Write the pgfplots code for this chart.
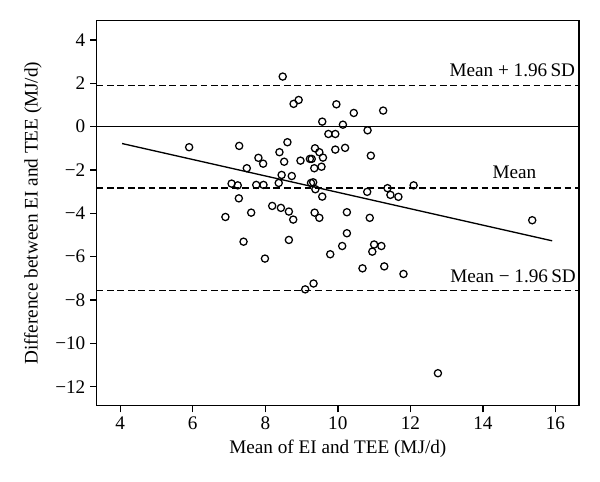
\documentclass[border=0pt]{standalone}
\usepackage{fontspec}
\setmainfont{Liberation Serif}
\usepackage{pgfplots}
\pgfplotsset{compat=1.18}
\begin{document}
\begin{tikzpicture}
\begin{axis}[
  scale only axis,
  width=361.7pt, height=288.75pt,
  xmin=3.35, xmax=16.65, ymin=-12.88, ymax=4.89,
  xtick={4,6,8,10,12,14,16},
  ytick={-12,-10,-8,-6,-4,-2,0,2,4},
  yticklabels={−12,−10,−8,−6,−4,−2,0,2,4},
  xtick pos=left, ytick pos=left,
  tick align=outside, major tick length=5pt,
  axis line style={line width=1pt},
  every tick/.style={line width=1pt, black},
  tick label style={font=\fontsize{14.4}{16}\selectfont},
  label style={font=\fontsize{14.4}{16}\selectfont},
  /pgf/number format/assume math mode=true,
  xlabel={Mean of EI and TEE (MJ/d)},
  ylabel={Difference between EI and TEE (MJ/d)},
  xlabel style={at={(axis description cs:0.5,-0.112)}, anchor=center},
  ylabel style={at={(axis description cs:-0.132,0.5)}, anchor=center},
  clip=false,
]
\addplot[black, line width=1pt, forget plot] coordinates {(3.35,0) (16.65,0)};
\addplot[black, line width=1pt, dash pattern=on 5pt off 2.8pt, forget plot] coordinates {(3.35,1.91) (16.65,1.91)};
\addplot[black, line width=1pt, dash pattern=on 5pt off 2.8pt, forget plot] coordinates {(3.35,-2.83) (16.65,-2.83)};
\addplot[black, line width=1pt, dash pattern=on 5pt off 2.8pt, forget plot] coordinates {(3.35,-7.57) (16.65,-7.57)};
\addplot[black, line width=1pt, forget plot] coordinates {(4.05,-0.78) (15.91,-5.27)};
\addplot[only marks, mark=o, mark size=2.7pt, mark options={line width=0.95pt, black}] table {
x y
5.90 -0.95
7.28 -0.89
7.81 -1.44
7.49 -1.92
7.07 -2.63
7.24 -2.71
7.75 -2.69
7.95 -2.69
7.27 -3.31
8.48 2.31
8.78 1.05
8.92 1.23
9.96 1.03
10.44 0.63
11.25 0.74
9.57 0.23
10.14 0.09
10.82 -0.17
9.74 -0.34
9.93 -0.34
8.61 -0.72
8.39 -1.18
9.37 -1.00
9.49 -1.18
9.59 -1.43
9.93 -1.06
10.20 -0.98
10.91 -1.34
7.94 -1.71
8.52 -1.62
8.97 -1.57
9.23 -1.49
9.28 -1.49
9.35 -1.92
9.55 -1.85
8.45 -2.23
8.73 -2.28
8.37 -2.60
9.26 -2.60
9.32 -2.57
9.38 -2.89
9.57 -3.23
10.81 -3.01
11.37 -2.84
11.45 -3.15
11.67 -3.24
12.09 -2.71
15.36 -4.32
6.90 -4.17
7.61 -3.97
7.40 -5.31
8.19 -3.66
8.43 -3.75
8.65 -3.92
8.77 -4.29
9.36 -3.97
9.49 -4.21
10.25 -3.95
10.88 -4.21
7.99 -6.09
8.65 -5.23
9.79 -5.89
10.12 -5.51
10.25 -4.92
11.00 -5.44
11.20 -5.51
10.95 -5.77
10.68 -6.54
11.28 -6.45
9.33 -7.24
9.10 -7.51
11.81 -6.80
12.76 -11.38
};
\node[anchor=base east, font=\fontsize{14.4}{16}\selectfont, inner sep=0pt] at (axis cs:16.55,2.3) {Mean + 1.96\,SD};
\node[anchor=base east, font=\fontsize{14.4}{16}\selectfont, inner sep=0pt] at (axis cs:15.48,-2.38) {Mean};
\node[anchor=base east, font=\fontsize{14.4}{16}\selectfont, inner sep=0pt] at (axis cs:16.57,-7.18) {Mean − 1.96\,SD};
\end{axis}
\path (current axis.south west) ++(-72.5pt,-57.2pt) coordinate (bl);
\path (current axis.north east) ++(15.75pt,15.5pt) coordinate (tr);
\useasboundingbox (bl) rectangle (tr);
\end{tikzpicture}
\end{document}
